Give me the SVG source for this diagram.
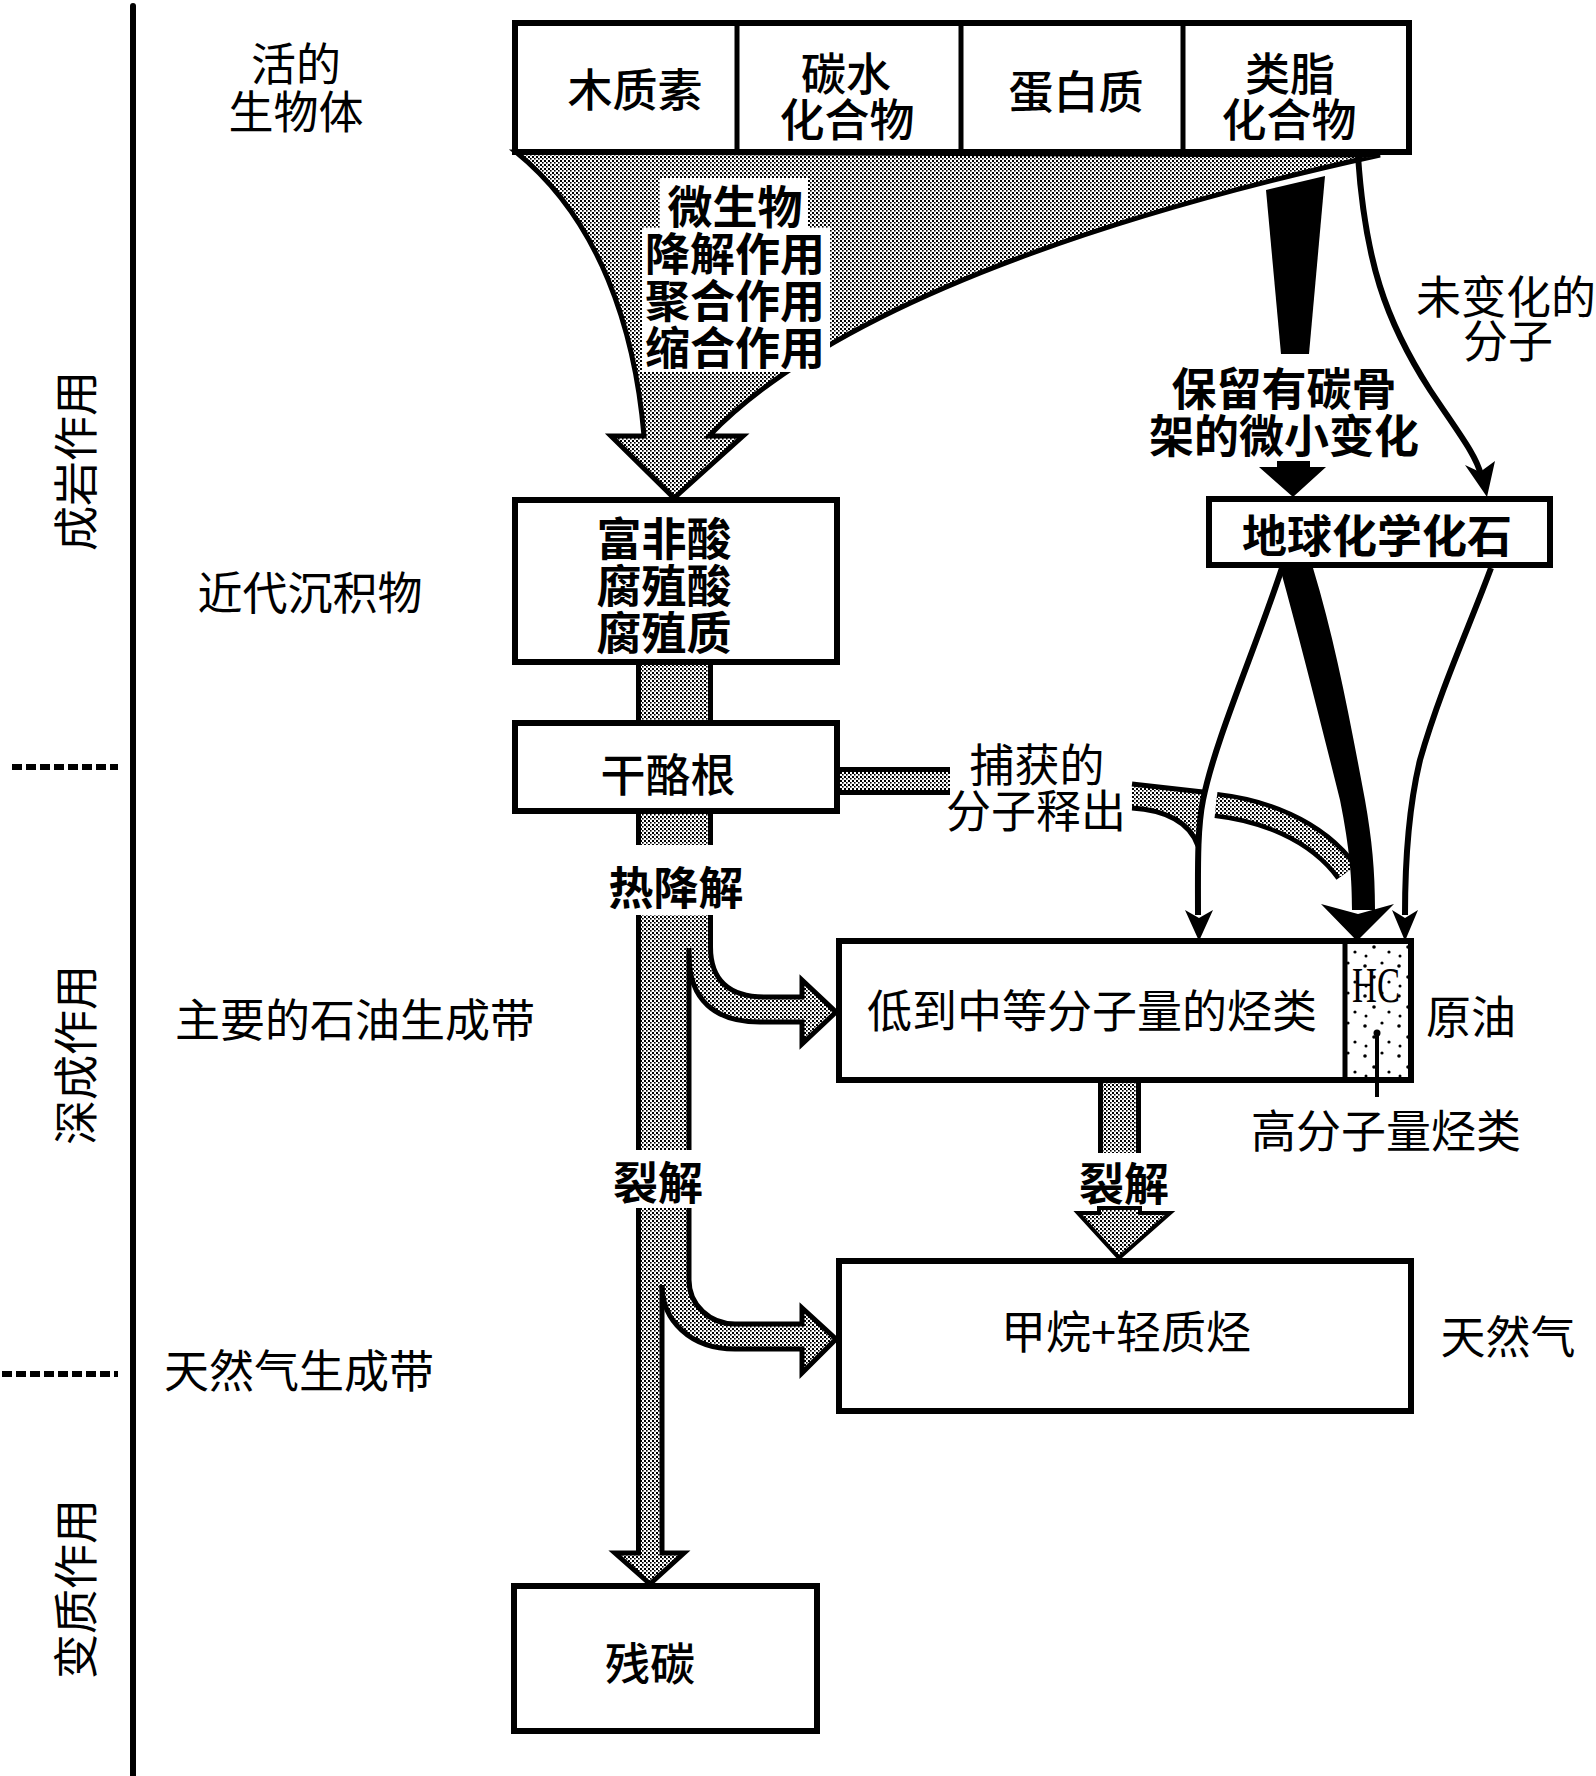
<svg xmlns="http://www.w3.org/2000/svg" width="1596" height="1776" viewBox="0 0 1596 1776">
<defs>
<pattern id="dots" width="4" height="4" patternUnits="userSpaceOnUse">
<rect width="4" height="4" fill="#fff"/>
<rect width="2" height="2" fill="#000"/>
<rect x="2" y="2" width="1.6" height="1.6" fill="#000"/>
</pattern>
<pattern id="sparse" width="34" height="30" patternUnits="userSpaceOnUse">
<rect width="34" height="30" fill="#fff"/>
<circle cx="5" cy="6" r="1.8"/>
<circle cx="22" cy="3" r="1.6"/>
<circle cx="14" cy="17" r="1.8"/>
<circle cx="29" cy="22" r="1.6"/>
<circle cx="6" cy="26" r="1.5"/>
</pattern>
<style>
.t{font-family:'Noto Sans CJK SC','Noto Sans CJK JP',sans-serif;font-size:45px;fill:#000;text-anchor:middle;dominant-baseline:central}
.b{font-weight:700}
.m{font-weight:500}
.box{fill:#fff;stroke:#000;stroke-width:6}
.div{stroke:#000;stroke-width:5}
.edge{fill:none;stroke:#000;stroke-width:5}
.ln{fill:none;stroke:#000;stroke-width:6}
.sh{fill:url(#dots)}
.tick{stroke:#000;stroke-width:6;stroke-dasharray:10 4}
.head{fill:#000}
</style>
</defs>
<rect width="1596" height="1776" fill="#fff"/>

<g id="axis">
<line x1="133" y1="6" x2="133" y2="1776" stroke="#000" stroke-width="6" stroke-linecap="round"/>
<line class="tick" x1="12" y1="767" x2="118" y2="767"/>
<line class="tick" x1="2" y1="1374" x2="118" y2="1374"/>
<text class="t" transform="translate(73,461) rotate(-90)">成岩作用</text>
<text class="t" transform="translate(73,1055) rotate(-90)">深成作用</text>
<text class="t" transform="translate(73,1589) rotate(-90)">变质作用</text>
</g>

<g id="zone-labels">
<text class="t" x="296" y="61">活的<tspan x="296" dy="48">生物体</tspan></text>
<text class="t" x="310" y="590">近代沉积物</text>
<text class="t" x="355" y="1017">主要的石油生成带</text>
<text class="t" x="299" y="1368">天然气生成带</text>
</g>

<g id="connectors">
<!-- funnel: microbial degradation -->
<path class="sh" d="M516,152 L1380,155 C1130,210 840,300 709,436 L743,436 L674,498 L611,436 L644,436 C635,330 600,220 516,152 Z" stroke="#000" stroke-width="5" stroke-linejoin="miter"/>
<polygon fill="#fff" points="660,178 808,178 808,228 830,228 830,372 642,372 642,228 660,228"/>
<text class="t b" x="735" y="204">微生物<tspan x="735" dy="47">降解作用</tspan><tspan x="735" dy="47">聚合作用</tspan><tspan x="735" dy="47">缩合作用</tspan></text>

<!-- black tapered band -->
<polygon class="head" points="1266,190 1325,176 1309,354 1281,354"/>
<text class="t b" x="1284" y="386">保留有碳骨<tspan x="1284" dy="47">架的微小变化</tspan></text>
<polygon class="head" points="1277,461 1310,461 1310,467 1326,467 1293,497 1259,467 1277,467"/>

<!-- unchanged molecules -->
<path class="ln" d="M1358,156 C1365,260 1385,320 1430,390 C1460,435 1476,455 1481,475"/>
<polygon class="head" points="1465,465 1480,472 1495,461 1487,497"/>
<text class="t" x="1506" y="294">未变化的<tspan x="1508" dy="44">分子</tspan></text>

<!-- column A/B -->
<rect class="sh" x="636" y="665" width="76" height="56"/>
<line class="div" x1="638.5" y1="665" x2="638.5" y2="721"/>
<line class="div" x1="710.5" y1="665" x2="710.5" y2="721"/>
<rect class="sh" x="636" y="813" width="76" height="32"/>
<line class="div" x1="638.5" y1="813" x2="638.5" y2="845"/>
<line class="div" x1="710.5" y1="813" x2="710.5" y2="845"/>
<text class="t b" x="676" y="885">热降解</text>

<!-- column C with branch to oil -->
<path class="sh" d="M636,915 L712,915 L712,947 C712,985 735,997 765,997 L802,997 L802,980 L837,1012 L802,1044 L802,1022 L760,1022 C715,1022 689,1000 689,952 L689,1150 L636,1150 Z"/>
<path class="edge" d="M638.5,915 V1150"/>
<path class="edge" d="M710.5,915 V947 C710.5,985 735,997 765,997 H802 V980 L836,1012 L802,1044 V1022 H760 C715,1022 689,1000 689,955"/>
<path class="edge" d="M689,948 V1150"/>
<text class="t b" x="658" y="1180">裂解</text>

<!-- column D with branch to gas -->
<path class="sh" d="M636,1208 L689,1208 L689,1280 C689,1305 710,1324 735,1324 L802,1324 L802,1308 L837,1339 L802,1373 L802,1349 L735,1349 C690,1349 662,1320 662,1285 L662,1553 L684,1553 L650,1584 L615,1553 L636,1553 Z"/>
<path class="edge" d="M638.5,1208 V1553 H615 L650,1584 L684,1553 H662 V1285"/>
<path class="edge" d="M689,1208 V1280 C689,1305 710,1324 735,1324 H802 V1308 L836,1339 L802,1373 V1349 H735 C690,1349 662,1320 662,1285"/>

<!-- oil to gas cracking -->
<rect class="sh" x="1099" y="1083" width="41" height="70"/>
<line class="div" x1="1100.5" y1="1083" x2="1100.5" y2="1153"/>
<line class="div" x1="1138.5" y1="1083" x2="1138.5" y2="1153"/>
<text class="t b" x="1124" y="1181">裂解</text>
<polygon class="sh" points="1099,1208 1140,1208 1140,1213 1170,1213 1119,1258 1078,1213 1099,1213" stroke="#000" stroke-width="4"/>

<!-- trapped molecules released -->
<path d="M840,781 H950" stroke="#000" stroke-width="28" fill="none"/>
<path d="M840,781 H950" stroke="url(#dots)" stroke-width="18" fill="none"/>
<text class="t" x="1037" y="762">捕获的<tspan x="1036" dy="46">分子释出</tspan></text>
<path class="sh" d="M1132,784 L1203,792 L1198,846 C1190,822 1165,810 1132,808 Z"/>
<path class="edge" d="M1132,784 L1203,792"/>
<path class="edge" d="M1198,846 C1190,822 1165,810 1132,808"/>
<path d="M1216,805 C1260,810 1315,828 1347,872" stroke="#000" stroke-width="26" fill="none"/>
<path d="M1216,805 C1260,810 1315,828 1347,872" stroke="url(#dots)" stroke-width="17" fill="none"/>

<!-- geochemical fossil to oil -->
<path class="ln" d="M1282,568 C1255,650 1215,740 1203,800 C1197,830 1198,870 1198,915"/>
<polygon class="head" points="1185,910 1199,918 1213,910 1199,941"/>
<path class="head" d="M1280,568 C1300,640 1320,720 1340,800 C1350,850 1352,880 1352,910 L1375,910 C1375,870 1372,840 1365,800 C1350,720 1335,640 1313,568 Z"/>
<polygon class="head" points="1321,904 1358,914 1394,904 1357,941"/>
<path class="ln" d="M1491,568 C1470,625 1440,690 1420,760 C1408,810 1405,860 1405,915"/>
<polygon class="head" points="1392,910 1405,918 1418,910 1405,941"/>
</g>

<g id="node-biomass">
<rect class="box" x="515" y="23" width="894" height="129"/>
<line class="div" x1="737" y1="23" x2="737" y2="152"/>
<line class="div" x1="961" y1="23" x2="961" y2="152"/>
<line class="div" x1="1183" y1="23" x2="1183" y2="152"/>
<text class="t m" x="635" y="87">木质素</text>
<text class="t m" x="846" y="71">碳水<tspan x="847" dy="46">化合物</tspan></text>
<text class="t m" x="1076" y="89">蛋白质</text>
<text class="t m" x="1290" y="71">类脂<tspan x="1289" dy="46">化合物</tspan></text>
</g>

<g id="node-humic">
<rect class="box" x="515" y="500" width="322" height="162"/>
<text class="t b" x="664" y="536">富非酸<tspan x="664" dy="47">腐殖酸</tspan><tspan x="664" dy="47">腐殖质</tspan></text>
</g>

<g id="node-kerogen">
<rect class="box" x="515" y="723" width="322" height="88"/>
<text class="t m" x="668" y="772">干酪根</text>
</g>

<g id="node-geofossil">
<rect class="box" x="1209" y="499" width="341" height="66"/>
<text class="t b" x="1377" y="533">地球化学化石</text>
</g>

<g id="node-oil">
<rect class="box" x="839" y="941" width="572" height="139"/>
<rect x="1345" y="944" width="63" height="133" fill="url(#sparse)"/>
<line class="div" x1="1345" y1="941" x2="1345" y2="1080"/>
<text class="t" x="1092" y="1008">低到中等分子量的烃类</text>
<text x="1376" y="1002" font-family="'Liberation Serif',serif" font-size="50" text-anchor="middle" textLength="48" lengthAdjust="spacingAndGlyphs">HC</text>
<line x1="1377" y1="1033" x2="1377" y2="1097" stroke="#000" stroke-width="4"/>
<circle cx="1377" cy="1033" r="3.5"/>
<text class="t" x="1471" y="1014">原油</text>
<text class="t" x="1386" y="1128">高分子量烃类</text>
</g>

<g id="node-gas">
<rect class="box" x="839" y="1261" width="572" height="150"/>
<text class="t" x="1126" y="1329">甲烷+轻质烃</text>
<text class="t" x="1508" y="1334">天然气</text>
</g>

<g id="node-residual">
<rect class="box" x="514" y="1586" width="303" height="145"/>
<text class="t m" x="650" y="1661">残碳</text>
</g>
</svg>
